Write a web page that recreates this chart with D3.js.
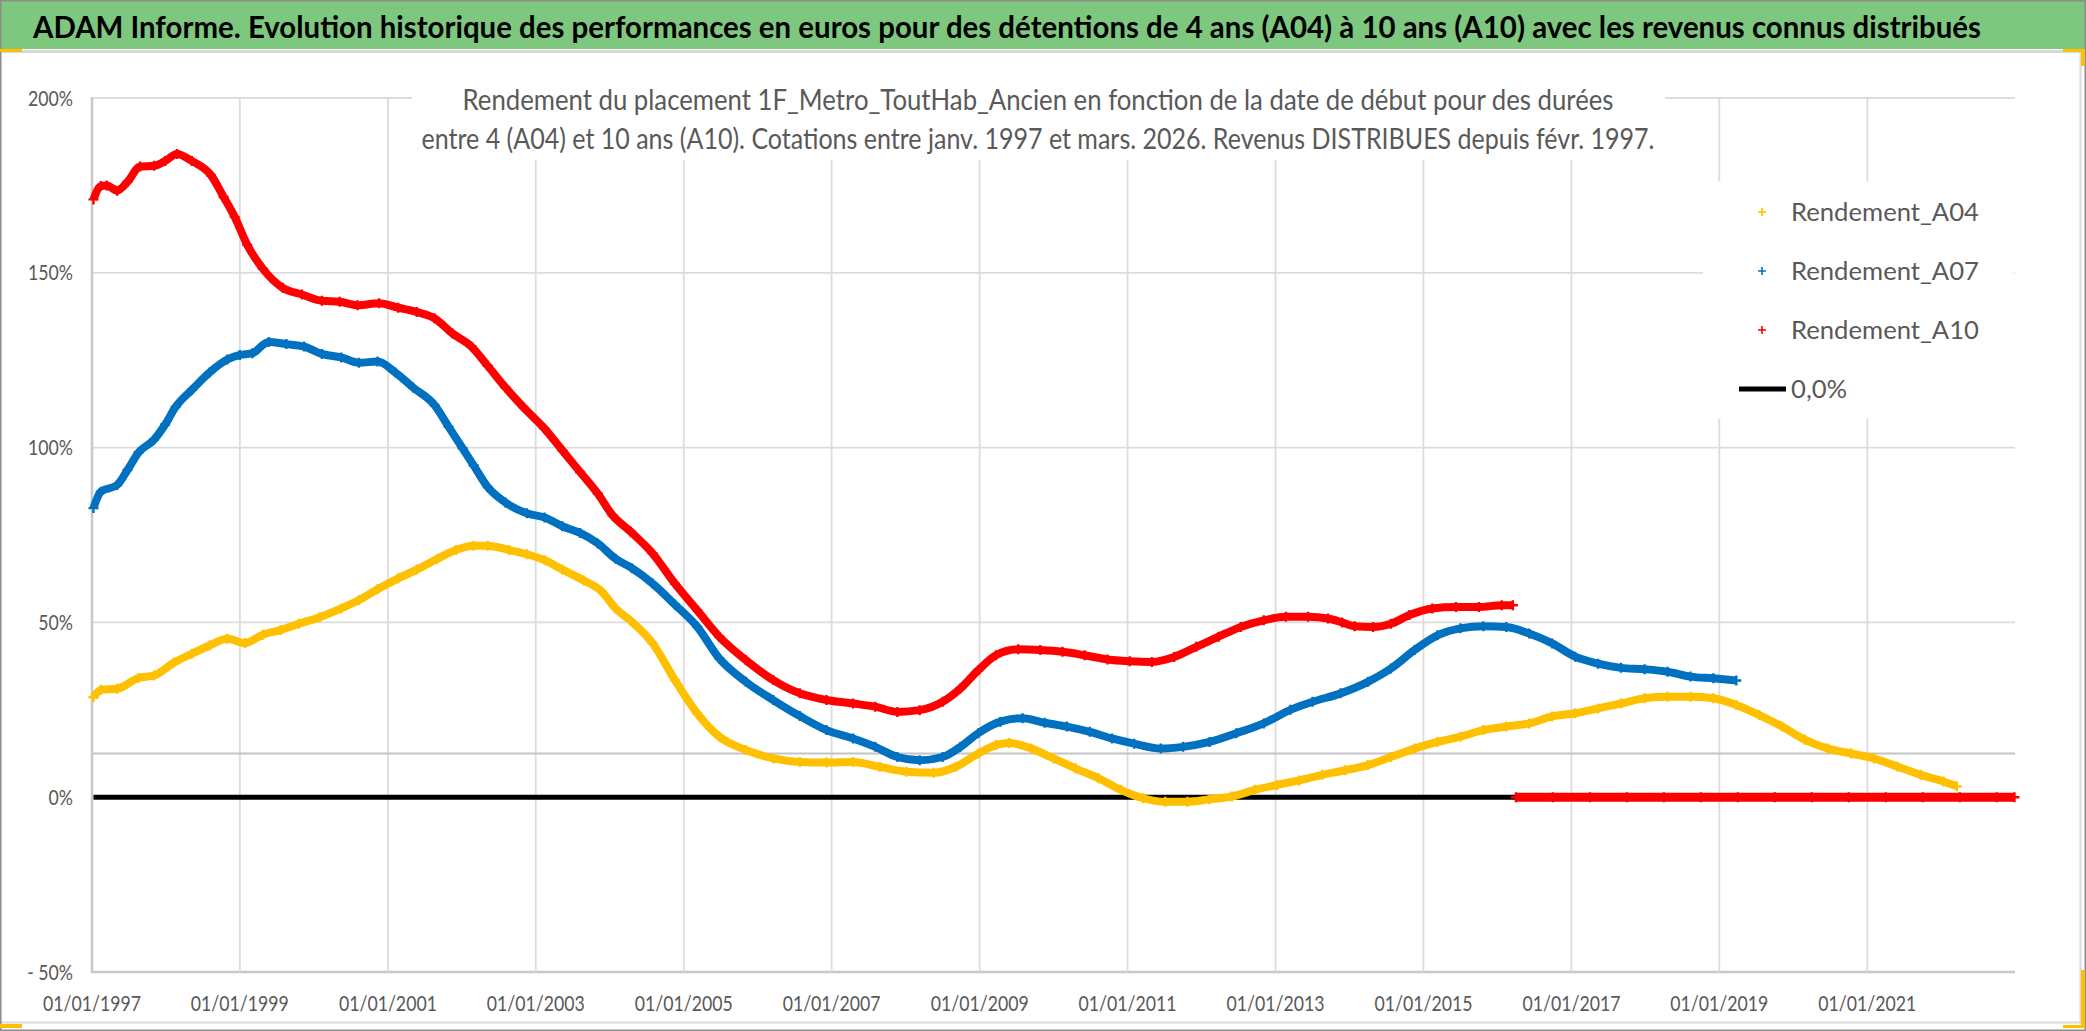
<!DOCTYPE html>
<html><head><meta charset="utf-8">
<script src="https://cdn.jsdelivr.net/npm/d3@7"></script>
<style>html,body{margin:0;padding:0;background:#fff;overflow:hidden}svg{display:block}</style>
</head><body>
<svg id="chart" width="2086" height="1031"></svg>
<script>
// ---------------- DATA ----------------
const titleText = "ADAM Informe. Evolution historique des performances en euros pour des détentions de 4 ans (A04) à 10 ans (A10) avec les revenus connus distribués";
const subtitleLines = [
  "Rendement du placement 1F_Metro_ToutHab_Ancien en fonction de la date de début pour des durées",
  "entre 4 (A04) et 10 ans (A10). Cotations entre janv. 1997 et mars. 2026. Revenus DISTRIBUES depuis févr. 1997."
];
const seriesNames = ["Rendement_A04", "Rendement_A07", "Rendement_A10", "0,0%"];
const yTickValues = [-50, 0, 50, 100, 150, 200];
const xTickYears = [1997, 1999, 2001, 2003, 2005, 2007, 2009, 2011, 2013, 2015, 2017, 2019, 2021];
const axisCrossValue = 12.5;

// [date as decimal year, return in %]
const rendementA04 = [
  [1997.02,28.6],[1997.12,30.7],[1997.34,31.0],[1997.63,34.1],[1997.84,34.8],[1998.11,38.5],[1998.35,41.0],
  [1998.59,43.4],[1998.83,45.3],[1999.07,44.1],[1999.31,46.5],[1999.55,47.8],[1999.80,49.6],[2000.08,51.5],
  [2000.37,54.0],[2000.61,56.4],[2000.86,59.5],[2001.14,62.6],[2001.39,65.1],[2001.67,68.2],[2001.92,70.7],
  [2002.16,71.9],[2002.35,71.9],[2002.64,70.7],[2002.88,69.5],[2003.12,67.8],[2003.36,65.1],[2003.65,62.0],
  [2003.89,58.9],[2004.08,54.0],[2004.28,50.5],[2004.58,44.0],[2004.88,33.5],[2005.18,24.0],[2005.48,17.3],
  [2005.84,13.5],[2006.21,11.1],[2006.57,10.1],[2006.93,9.9],[2007.29,10.1],[2007.65,8.7],[2008.01,7.3],
  [2008.38,7.0],[2008.68,8.7],[2008.98,12.5],[2009.22,14.9],[2009.40,15.5],[2009.70,13.9],[2010.00,11.1],
  [2010.30,8.2],[2010.61,5.4],[2010.91,2.1],[2011.21,-0.3],[2011.51,-1.3],[2011.81,-1.3],[2012.11,-0.6],
  [2012.41,0.2],[2012.72,2.1],[2013.02,3.5],[2013.32,4.8],[2013.63,6.4],[2013.94,7.7],[2014.25,9.2],
  [2014.56,11.5],[2014.88,13.9],[2015.19,15.8],[2015.50,17.3],[2015.81,19.2],[2016.12,20.2],[2016.43,21.1],
  [2016.74,23.1],[2017.05,24.0],[2017.36,25.4],[2017.67,26.8],[2017.99,28.3],[2018.30,28.7],[2018.61,28.7],
  [2018.92,28.3],[2019.23,26.4],[2019.54,23.5],[2019.85,20.2],[2020.16,16.4],[2020.47,13.9],[2020.78,12.5],
  [2021.09,11.1],[2021.41,8.7],[2021.72,6.4],[2022.03,4.5],[2022.21,3.1]
];
const rendementA07 = [
  [1997.02,82.7],[1997.12,87.4],[1997.34,89.3],[1997.48,93.6],[1997.63,98.6],[1997.84,102.3],[1997.99,106.6],
  [1998.13,111.6],[1998.35,116.5],[1998.59,121.5],[1998.83,125.2],[1999.00,126.5],[1999.17,127.0],[1999.39,130.2],
  [1999.63,129.6],[1999.87,128.9],[2000.11,126.8],[2000.37,125.8],[2000.61,124.3],[2000.86,124.6],[2001.10,121.5],
  [2001.34,117.2],[2001.63,112.2],[2001.82,106.0],[2002.01,99.8],[2002.16,94.9],[2002.35,88.7],[2002.59,84.3],
  [2002.88,81.2],[2003.12,80.0],[2003.36,77.5],[2003.60,75.6],[2003.84,72.6],[2004.08,68.2],[2004.30,65.5],
  [2004.58,61.1],[2004.88,55.1],[2005.18,48.8],[2005.48,39.7],[2005.84,33.0],[2006.21,27.8],[2006.57,23.2],
  [2006.93,19.2],[2007.29,16.8],[2007.59,14.4],[2007.89,11.5],[2008.19,10.6],[2008.50,11.5],[2008.74,14.4],
  [2008.98,18.3],[2009.28,21.6],[2009.58,22.6],[2009.88,21.3],[2010.18,20.2],[2010.49,18.7],[2010.79,16.8],
  [2011.09,15.3],[2011.45,13.9],[2011.75,14.4],[2012.11,15.8],[2012.47,18.3],[2012.84,21.1],[2013.20,25.0],
  [2013.50,27.3],[2013.88,29.7],[2014.25,33.0],[2014.56,36.8],[2014.88,42.1],[2015.19,46.3],[2015.50,48.3],
  [2015.81,48.9],[2016.12,48.7],[2016.43,46.8],[2016.74,44.0],[2017.05,40.2],[2017.36,38.2],[2017.67,37.0],
  [2017.99,36.6],[2018.30,35.9],[2018.61,34.5],[2018.92,34.0],[2019.23,33.4]
];
const rendementA10 = [
  [1997.02,171.0],[1997.12,174.8],[1997.20,175.0],[1997.34,173.5],[1997.48,176.0],[1997.65,180.4],[1997.84,180.6],
  [1997.99,182.0],[1998.15,184.0],[1998.35,182.0],[1998.61,177.9],[1998.78,171.7],[1998.93,166.0],[1999.10,158.0],
  [1999.31,151.2],[1999.58,145.7],[1999.84,143.8],[2000.11,142.0],[2000.35,141.7],[2000.59,140.7],[2000.88,141.3],
  [2001.14,140.0],[2001.39,138.8],[2001.63,137.0],[2001.87,132.7],[2002.13,128.9],[2002.35,123.4],[2002.59,117.2],
  [2002.83,111.6],[2003.12,105.4],[2003.36,99.2],[2003.60,93.0],[2003.84,86.8],[2004.04,80.6],[2004.28,76.0],
  [2004.58,69.7],[2004.88,61.1],[2005.18,53.5],[2005.48,45.9],[2005.84,39.2],[2006.21,33.5],[2006.57,29.7],
  [2006.93,27.8],[2007.29,26.8],[2007.59,25.9],[2007.89,24.4],[2008.19,24.9],[2008.50,27.3],[2008.74,31.1],
  [2008.98,36.3],[2009.22,40.6],[2009.52,42.3],[2009.82,42.1],[2010.12,41.6],[2010.42,40.6],[2010.73,39.4],
  [2011.03,38.9],[2011.33,38.7],[2011.63,40.1],[2011.93,43.0],[2012.23,45.9],[2012.53,48.7],[2012.84,50.6],
  [2013.14,51.6],[2013.44,51.6],[2013.71,51.1],[2013.90,50.0],[2014.07,48.9],[2014.32,48.7],[2014.56,49.6],
  [2014.81,52.1],[2015.12,54.0],[2015.44,54.4],[2015.75,54.4],[2016.06,54.9],[2016.21,54.9]
];
// A10 points plotted at 0 after its last known value
const rendementA10Zero = [
  [2016.25,0],[2016.75,0],[2017.25,0],[2017.75,0],[2018.25,0],[2018.75,0],[2019.25,0],[2019.75,0],
  [2020.25,0],[2020.75,0],[2021.25,0],[2021.75,0],[2022.25,0],[2022.75,0],[2022.99,0]
];
const zeroLine = [[1997.02,0],[2022.99,0]];

// ---------------- DRAW ----------------
const W = 2086, H = 1031;
const FONT = "Lato, 'Open Sans', 'DejaVu Sans', sans-serif";
const colA04 = "#FFC000", colA07 = "#0070C0", colA10 = "#FF0000";
const svg = d3.select("#chart");

function toDate(y) {
  const yr = Math.floor(y);
  const s = new Date(yr, 0, 1).getTime(), e = new Date(yr + 1, 0, 1).getTime();
  return new Date(s + (y - yr) * (e - s));
}

const x = d3.scaleTime().domain([new Date(1997, 0, 1), new Date(2022, 11, 31)]).range([92, 2015]);
const y = d3.scaleLinear().domain([-50, 200]).range([972, 98]);

// background & frame
svg.append("rect").attr("width", W).attr("height", H).attr("fill", "#fff");
svg.append("rect").attr("x", 0).attr("y", 0).attr("width", W).attr("height", 49).attr("fill", "#7DC87E");
svg.append("line").attr("x1", 0).attr("x2", 2080).attr("y1", 51.5).attr("y2", 51.5).attr("stroke", "#D9D9D9").attr("stroke-width", 3);
svg.append("line").attr("x1", 2080.5).attr("x2", 2080.5).attr("y1", 51).attr("y2", 1023).attr("stroke", "#D9D9D9").attr("stroke-width", 2);
svg.append("line").attr("x1", 0).attr("x2", 2081).attr("y1", 1022.5).attr("y2", 1022.5).attr("stroke", "#D9D9D9").attr("stroke-width", 2);
svg.append("rect").attr("x", 0.75).attr("y", 0.75).attr("width", W - 1.5).attr("height", H - 1.5)
  .attr("fill", "none").attr("stroke", "#8C8C8C").attr("stroke-width", 1.5);
// selection handles
const handles = [[0,49,22,3],[2063,49,22,3],[2081,49,4,17],[2081,970,4,58],[2063,1025,22,3],[0,1024,22,4]];
svg.selectAll("rect.h").data(handles).enter().append("rect").attr("class", "h")
  .attr("x", d => d[0]).attr("y", d => d[1]).attr("width", d => d[2]).attr("height", d => d[3]).attr("fill", "#FFC000");

// gridlines
const grid = svg.append("g");
grid.selectAll("line.hy").data(yTickValues).enter().append("line")
  .attr("x1", 92).attr("x2", 2015).attr("y1", d => y(d)).attr("y2", d => y(d))
  .attr("stroke", d => d === -50 ? "#C8C8C8" : "#DCDCDC").attr("stroke-width", d => d === -50 ? 2.5 : 1.8);
const xTickDates = xTickYears.map(v => new Date(v, 0, 1));
grid.selectAll("line.vx").data(xTickDates.slice(1)).enter().append("line")
  .attr("x1", d => x(d)).attr("x2", d => x(d)).attr("y1", 98).attr("y2", 972)
  .attr("stroke", "#DCDCDC").attr("stroke-width", 1.8);
grid.append("line").attr("x1", 92).attr("x2", 2015).attr("y1", y(axisCrossValue)).attr("y2", y(axisCrossValue))
  .attr("stroke", "#C4C4C4").attr("stroke-width", 2);
grid.append("line").attr("x1", 92).attr("x2", 92).attr("y1", 97).attr("y2", 973)
  .attr("stroke", "#C8C8C8").attr("stroke-width", 2.5);

// title / legend boxes covering the grid
svg.append("rect").attr("x", 412).attr("y", 60).attr("width", 1253).attr("height", 100).attr("fill", "#fff");
svg.append("rect").attr("x", 1703).attr("y", 181).attr("width", 311).attr("height", 238).attr("fill", "#fff");

// series
const line = d3.line().x(d => x(toDate(d[0]))).y(d => y(d[1])).curve(d3.curveMonotoneX);
const series = svg.append("g");
series.append("path").datum(zeroLine).attr("d", line).attr("fill", "none").attr("stroke", "#000").attr("stroke-width", 5);
const plusPath = "M-5,0H5M0,-5V5";
function drawSeries(data, color, w) {
  series.append("path").datum(data).attr("d", line).attr("fill", "none")
    .attr("stroke", color).attr("stroke-width", w).attr("stroke-linejoin", "round");
  series.selectAll(null).data(data).enter().append("path")
    .attr("d", plusPath).attr("transform", d => `translate(${x(toDate(d[0]))},${y(d[1])})`)
    .attr("stroke", color).attr("stroke-width", 2.4).attr("fill", "none");
}
drawSeries(rendementA04, colA04, 8);
drawSeries(rendementA07, colA07, 8);
drawSeries(rendementA10, colA10, 8);
drawSeries(rendementA10Zero, colA10, 9);

// axis labels
function fit(sel, factor) {
  sel.each(function () {
    const n = this.getComputedTextLength();
    d3.select(this).attr("textLength", n * factor).attr("lengthAdjust", "spacingAndGlyphs");
  });
}
const yLab = svg.append("g").attr("font-family", FONT).attr("font-size", 21).attr("fill", "#595959");
const yTexts = yLab.selectAll("text").data(yTickValues).enter().append("text")
  .attr("x", 73).attr("y", d => y(d)).attr("dy", "0.36em").attr("text-anchor", "end")
  .text(d => d < 0 ? "- " + Math.abs(d) + "%" : d + "%");
const ref200 = yTexts.filter(d => d === 200).node().getComputedTextLength();
fit(yTexts, 45 / ref200);

const xLab = svg.append("g").attr("font-family", FONT).attr("font-size", 21).attr("fill", "#595959");
const fmt = d3.timeFormat("%d/%m/%Y");
const xTexts = xLab.selectAll("text").data(xTickDates).enter().append("text")
  .attr("x", d => x(d)).attr("y", 1011).attr("text-anchor", "middle").text(d => fmt(d));
xTexts.attr("textLength", 98).attr("lengthAdjust", "spacingAndGlyphs");

// title
svg.append("text").attr("x", 33).attr("y", 38).attr("font-family", FONT).attr("font-size", 30)
  .attr("font-weight", "bold").attr("fill", "#000").attr("textLength", 1948).attr("lengthAdjust", "spacingAndGlyphs")
  .text(titleText);

// subtitle
const subW = [1151, 1233], subY = [110, 149];
svg.append("g").attr("font-family", FONT).attr("font-size", 28).attr("fill", "#595959")
  .selectAll("text").data(subtitleLines).enter().append("text")
  .attr("x", 1038).attr("y", (d, i) => subY[i]).attr("text-anchor", "middle")
  .attr("textLength", (d, i) => subW[i]).attr("lengthAdjust", "spacingAndGlyphs").text(d => d);

// legend
const legY = [212, 271, 330, 389];
const legCols = [colA04, colA07, colA10, "#000"];
const leg = svg.append("g").attr("font-family", FONT).attr("font-size", 25).attr("fill", "#595959");
seriesNames.forEach((name, i) => {
  if (i < 3) {
    leg.append("path").attr("d", "M-4,0H4M0,-4V4").attr("transform", `translate(1762,${legY[i]})`)
      .attr("stroke", legCols[i]).attr("stroke-width", 1.6).attr("fill", "none");
  } else {
    leg.append("line").attr("x1", 1739).attr("x2", 1786).attr("y1", legY[i]).attr("y2", legY[i])
      .attr("stroke", "#000").attr("stroke-width", 5);
  }
  leg.append("text").attr("class", "lt").attr("x", 1791).attr("y", legY[i]).attr("dy", "0.36em").text(name);
});
const legTexts = leg.selectAll("text.lt");
const firstLen = legTexts.nodes()[0].getComputedTextLength();
fit(legTexts, 188 / firstLen);
</script>
</body></html>
